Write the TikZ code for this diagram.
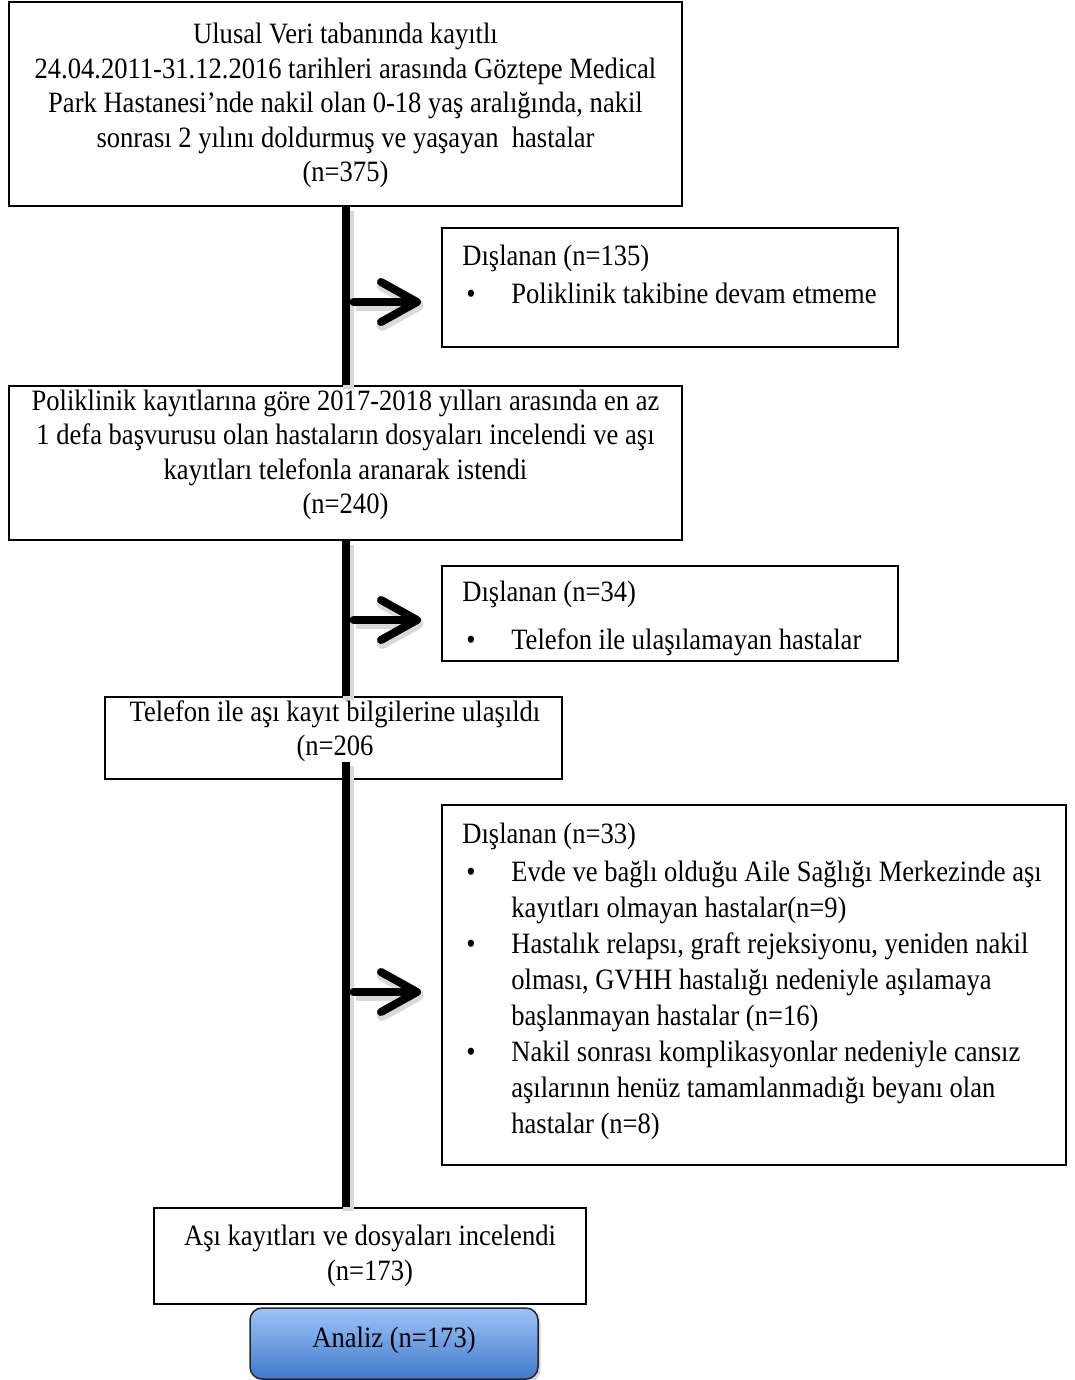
\documentclass[tikz,border=0pt]{standalone}
\usepackage{fontspec}
\setmainfont{Liberation Serif}[FakeStretch=0.9]
\usepackage{tikz}
\usetikzlibrary{arrows.meta, fit, shadows}

\definecolor{analiztop}{RGB}{158,196,249}
\definecolor{analizbottom}{RGB}{64,121,200}

\tikzset{
  flowbox/.style={draw=black, line width=0.04cm, fill=white, inner sep=0pt},
  flowtext/.style={inner sep=0pt, font=\fontsize{16.8}{19.6}\selectfont},
  trunk/.style={line width=0.16cm,
    preaction={draw=black!15, line width=0.22cm,
      transform canvas={shift={(0.05cm,-0.07cm)}}}},
  exarrow/.style={trunk, line cap=round, shorten <=0.16cm, shorten >=0.4cm,
    -{Straight Barb[length=0.72cm, width=0.8cm, line cap=round, line join=round]}},
}
\newcommand{\itemmark}{\makebox[0.98cm][l]{\hspace{0.08cm}\textbullet}}
\newcommand{\itemgap}{\hspace*{0.98cm}}

\begin{document}
\begin{tikzpicture}[x=0.02cm, y=-0.02cm]
  \useasboundingbox (0,0) rectangle (1075,1380);

  % main boxes
  \node[flowbox, fit={(9,2) (682,206)}] (b1) {};
  \node[flowtext, align=center] (b1t) at (345.5,105.5)
    {Ulusal Veri tabanında kayıtlı\\
     24.04.2011-31.12.2016 tarihleri arasında Göztepe Medical\\
     Park Hastanesi’nde nakil olan 0-18 yaş aralığında, nakil\\
     sonrası 2 yılını doldurmuş ve yaşayan\ \ hastalar\\
     (n=375)};

  \node[flowbox, fit={(9,386) (682,540)}] (b2) {};
  \node[flowtext, align=center] (b2t) at (345.5,455)
    {Poliklinik kayıtlarına göre 2017-2018 yılları arasında en az\\
     1 defa başvurusu olan hastaların dosyaları incelendi ve aşı\\
     kayıtları telefonla aranarak istendi\\
     (n=240)};

  \node[flowbox, fit={(105,697) (562,779)}] (b3) {};

  \node[flowbox, fit={(154,1208) (586,1304)}] (b4) {};
  \node[flowtext, align=center] (b4t) at (370,1256)
    {Aşı kayıtları ve dosyaları incelendi\\
     (n=173)};

  \node[draw=black!85, line width=0.03cm, rounded corners=0.24cm, inner sep=0pt,
    top color=analiztop, bottom color=analizbottom,
    drop shadow={shadow xshift=0.05cm, shadow yshift=-0.06cm, opacity=0.35},
    fit={(250,1308) (538,1379)}] (analiz) {};
  \node[flowtext] (analizt) at (394,1340) {Analiz (n=173)};

  % excluded boxes
  \node[flowbox, fit={(442,228) (898,347)}] (e1) {};
  \node[flowtext, align=left, anchor=north west] (e1t) at (462,244.5)
    {Dışlanan (n=135)\\[2pt]
     \itemmark Poliklinik takibine devam etmeme};

  \node[flowbox, fit={(442,566) (898,661)}] (e2) {};
  \node[flowtext, align=left, anchor=north west] (e2t) at (462,580.5)
    {Dışlanan (n=34)\\[8pt]
     \itemmark Telefon ile ulaşılamayan hastalar};

  \node[flowbox, fit={(442,805) (1066,1165)}] (e3) {};
  \node[flowtext, align=left, anchor=north west,
    font=\fontsize{16.8}{20.5}\selectfont] (e3t) at (462,822.5)
    {Dışlanan (n=33)\\[1pt]
     \itemmark Evde ve bağlı olduğu Aile Sağlığı Merkezinde aşı\\
     \itemgap kayıtları olmayan hastalar(n=9)\\
     \itemmark Hastalık relapsı, graft rejeksiyonu, yeniden nakil\\
     \itemgap olması, GVHH hastalığı nedeniyle aşılamaya\\
     \itemgap başlanmayan hastalar (n=16)\\
     \itemmark Nakil sonrası komplikasyonlar nedeniyle cansız\\
     \itemgap aşılarının henüz tamamlanmadığı beyanı olan\\
     \itemgap hastalar (n=8)};

  % trunk
  \draw[trunk] (b1.south) -- (b1.south |- b2.north);
  \draw[trunk] (b2.south) -- (b2.south |- b3.north);
  \node[flowtext, align=center, fill=white] (b3t) at (335,731)
    {Telefon ile aşı kayıt bilgilerine ulaşıldı\\
     (n=206};
  \draw[trunk] (b3t.south -| b2.south) -- (b2.south |- b4.north);

  % arrows to excluded boxes
  \coordinate (a1) at (b1.south |- 0,302);
  \coordinate (a2) at (b1.south |- 0,620);
  \coordinate (a3) at (b1.south |- 0,992);
  \draw[exarrow] (a1) -- (a1 -| e1.west);
  \draw[exarrow] (a2) -- (a2 -| e2.west);
  \draw[exarrow] (a3) -- (a3 -| e3.west);
\end{tikzpicture}
\end{document}
